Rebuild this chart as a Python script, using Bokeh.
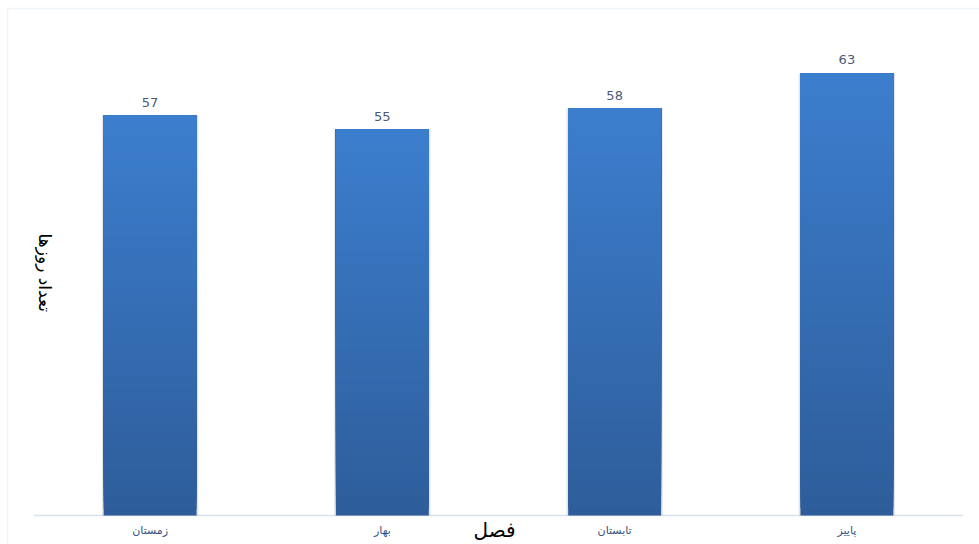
import math
from bokeh.plotting import figure
from bokeh.models import Range1d, Label, BoxAnnotation, ColumnDataSource
from bokeh.core.properties import value
from bokeh.embed import file_html
from bokeh.resources import INLINE

# data
seasons = ["زمستان", "بهار", "تابستان", "پاییز"]
days = [57, 55, 58, 63]
x_title = "فصل"
y_title = "تعداد روزها"

n = len(seasons)
pos = [i + 0.5 for i in range(n)]  # category slots on a numeric scale

p = figure(width=979, height=544, x_range=Range1d(-0.1442, n + 0.071), y_range=Range1d(-4.133, 73.40),
           output_backend="svg", toolbar_location=None, x_axis_location=None, y_axis_location=None,
           min_border=0, min_border_left=0, min_border_right=0, min_border_top=0, min_border_bottom=0)
p.grid.visible = False
p.outline_line_color = None
p.background_fill_color = "white"
p.border_fill_color = "white"

# chart border (top and left edges visible)
p.add_layout(BoxAnnotation(left=7, right=1400, top=8, bottom=1000, left_units="canvas",
                           right_units="canvas", top_units="canvas", bottom_units="canvas",
                           fill_alpha=0, line_color="#cddcf2", line_width=1.5, level="underlay"))

# category axis baseline
p.segment(x0=[0], x1=[n], y0=[0], y1=[0], line_color="#d9e1ee", line_width=1.5)

# soft shadow behind bars
p.vbar(x=pos, top=days, width=0.415, bottom=0, fill_color="#000000", fill_alpha=0.10, line_color=None)

# gradient bars: overlapping slices of each bar's own value
N = 60
top_rgb = (0x3c, 0x7e, 0xce)
bot_rgb = (0x2e, 0x5d, 0x9a)
xs, bots, tops, cols = [], [], [], []
for x, v in zip(pos, days):
    for k in range(N):
        f = k / (N - 1)
        c = tuple(int(round(bot_rgb[i] + (top_rgb[i] - bot_rgb[i]) * f)) for i in range(3))
        xs.append(x)
        bots.append(v * k / N)
        tops.append(v)
        cols.append("#%02x%02x%02x" % c)
src = ColumnDataSource(dict(x=xs, bottom=bots, top=tops, color=cols))
p.vbar(x="x", bottom="bottom", top="top", width=0.4, fill_color="color", line_color=None, source=src)

# value labels
p.text(x=pos, y=days, text=[str(d) for d in days], text_align="center", text_baseline="bottom",
       y_offset=-9, text_font=value("DejaVu Sans"), text_font_size="13px", text_color="#4a5a78")

# category labels
p.text(x=pos, y=[0] * n, text=seasons, text_align="center", text_baseline="top",
       y_offset=8, text_font=value("DejaVu Sans"), text_font_size="11px", text_color="#34507f")

# axis titles
p.add_layout(Label(x=1.983, y=-2.1, text=x_title, text_align="center", text_baseline="middle",
                   text_font="DejaVu Sans", text_font_size="20px", text_color="#000000"))
p.add_layout(Label(x=0.0495, y=34.6, text=y_title, angle=-math.pi / 2, text_align="center",
                   text_baseline="middle", text_font="DejaVu Sans", text_font_size="17px",
                   text_color="#000000"))

open("out.html", "w").write(file_html(p, INLINE))
